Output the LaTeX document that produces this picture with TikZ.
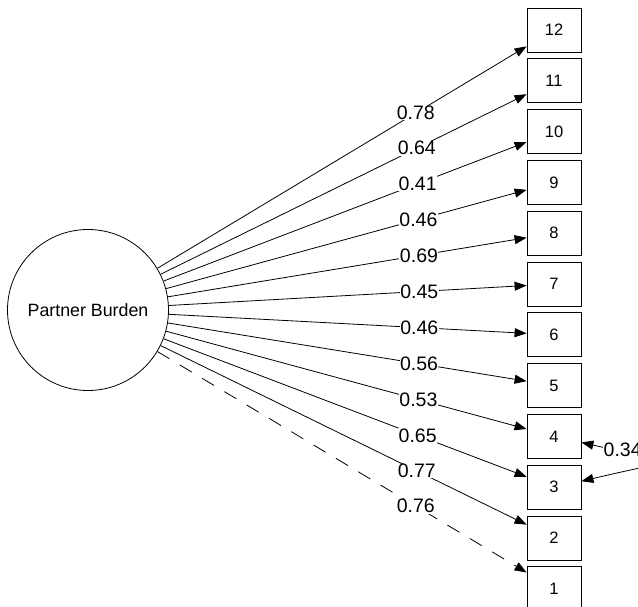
\documentclass[tikz,border=0pt]{standalone}
\usepackage{fontspec}
\setmainfont{Liberation Sans}
\usetikzlibrary{arrows.meta}
\begin{document}
\begin{tikzpicture}[x=1pt,y=-1pt,
  item/.style={draw, minimum width=54pt, minimum height=44pt, inner sep=0pt,
    font=\fontsize{16.5}{18}\selectfont, line width=0.8pt},
  latent/.style={draw, circle, minimum size=161pt, inner sep=0pt,
    font=\fontsize{17.8}{19}\selectfont, line width=0.8pt},
  load/.style={-{Triangle[length=12pt,width=9pt]}, line width=0.8pt},
  coef/.style={fill=white, inner sep=0.5pt, font=\fontsize{19.5}{21}\selectfont},
  onpath/.style={coef, pos=0.7}
]
\useasboundingbox (0,0) rectangle (638,607);
\clip (0,0) rectangle (638,607);

% latent factor and its twelve indicators
\node[latent] (pb) at (88,310) {Partner Burden};
\foreach \i in {1,...,12}
  \node[item] (b\i) at (554,{30+(12-\i)*50.8}) {\i};

% factor loadings
\draw[load] (pb) -- (b12) node[onpath] {0.78};
\draw[load] (pb) -- (b11) node[onpath] {0.64};
\draw[load] (pb) -- (b10) node[onpath] {0.41};
\draw[load] (pb) -- (b9)  node[onpath] {0.46};
\draw[load] (pb) -- (b8)  node[onpath] {0.69};
\draw[load] (pb) -- (b7)  node[onpath] {0.45};
\draw[load] (pb) -- (b6)  node[onpath] {0.46};
\draw[load] (pb) -- (b5)  node[onpath] {0.56};
\draw[load] (pb) -- (b4)  node[onpath] {0.53};
\draw[load] (pb) -- (b3)  node[onpath] {0.65};
\draw[load] (pb) -- (b2)  node[onpath] {0.77};
\draw[load, dash pattern=on 14pt off 12pt] (pb) -- (b1) node[onpath] {0.76};

% correlated residuals of items 3 and 4
\draw[{Triangle[length=12pt,width=9pt]}-{Triangle[length=12pt,width=9pt]}, line width=0.8pt]
  ([yshift=-6pt]b4.east) .. controls (680,465) and (680,458) .. ([yshift=6pt]b3.east);
\node[coef, anchor=west] (r34) at (603,450) {0.34};
\end{tikzpicture}
\end{document}
